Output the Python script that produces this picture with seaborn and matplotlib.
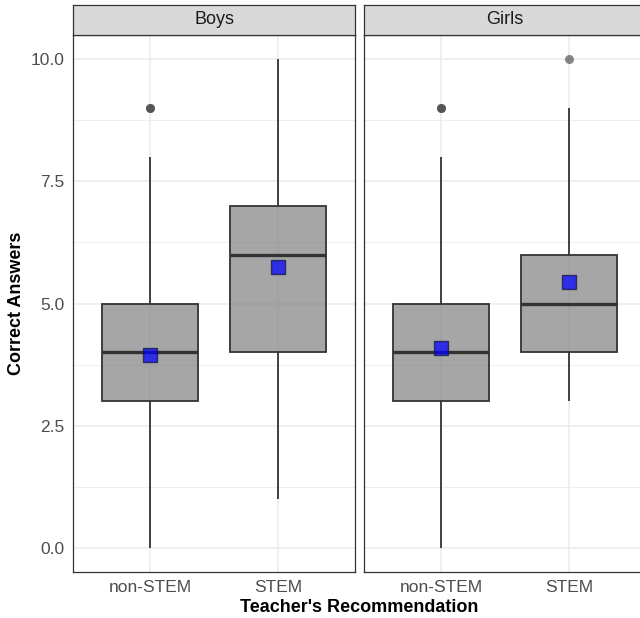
import numpy as np
import pandas as pd
import matplotlib
matplotlib.use('Agg')
import matplotlib.pyplot as plt
import seaborn as sns

sns.set_style('white')
plt.rcParams['font.family'] = ['Liberation Sans', 'DejaVu Sans']

# 数据
groups = ['Boys', 'Girls']
categories = ['non-STEM', 'STEM']
boys_non_stem = [0, 3, 3, 3, 4, 4, 4, 5, 5, 5, 8, 9, 9]
boys_stem = [1, 4, 4, 4, 6, 6, 6, 7, 7, 7, 10]
girls_non_stem = [0, 3, 3, 3, 4, 4, 4, 5, 5, 5, 8, 9, 9]
girls_stem = [3, 4, 4, 4, 5, 5, 5, 6, 6, 6, 9, 10]
boys_means = [3.95, 5.74]
girls_means = [4.08, 5.45]

scores = {'Boys': [boys_non_stem, boys_stem], 'Girls': [girls_non_stem, girls_stem]}
means = {'Boys': boys_means, 'Girls': girls_means}

W, H = 640, 618
fig = plt.figure(figsize=(W / 100, H / 100), dpi=100)

panel_left = [73, 364]
panel_w = 282
top, bottom, strip_top = 35, 572, 5

grey20 = '#333333'

for g, x0 in zip(groups, panel_left):
    ax = fig.add_axes([x0 / W, (H - bottom) / H, panel_w / W, (bottom - top) / H])
    rows = []
    for c, vals in zip(categories, scores[g]):
        rows += [(c, v) for v in vals]
    df = pd.DataFrame(rows, columns=['rec', 'score'])

    ax.set_axisbelow(True)
    sns.boxplot(data=df, x='rec', y='score', order=categories, ax=ax,
                width=0.75, color='#7f7f7f', linecolor=grey20, linewidth=1.3,
                saturation=1, showcaps=False, whis=1.5,
                medianprops=dict(color=grey20, linewidth=2.4),
                flierprops=dict(marker='o', markerfacecolor=grey20,
                                markeredgecolor='none', markersize=6.5, alpha=0.58))
    for p in ax.patches:
        p.set_facecolor((0.5, 0.5, 0.5, 0.7))
        p.set_edgecolor(grey20)

    # 均值（蓝色方块）
    sns.stripplot(x=categories, y=means[g], order=categories, ax=ax, jitter=False,
                  marker='s', size=10, color='blue', alpha=0.72,
                  edgecolor='#101040', linewidth=1)

    ax.set_xlim(-0.6, 1.6)
    ax.set_ylim(-0.5, 10.5)
    ax.set_yticks([0, 2.5, 5, 7.5, 10])
    ax.set_yticks([1.25, 3.75, 6.25, 8.75], minor=True)
    ax.set_yticklabels(['0.0', '2.5', '5.0', '7.5', '10.0'])
    ax.set_xticks([0, 1])
    ax.set_xticklabels(categories)
    ax.grid(True, which='major', color='#ebebeb', linewidth=1.1)
    ax.grid(True, which='minor', axis='y', color='#ebebeb', linewidth=0.6)
    ax.tick_params(axis='both', which='major', direction='out', length=4, width=0.8,
                   color=grey20, labelcolor='#4d4d4d', labelsize=12.5, pad=2)
    ax.tick_params(axis='y', which='minor', length=0)
    ax.set_xlabel('')
    ax.set_ylabel('')
    if g != 'Boys':
        ax.tick_params(axis='y', which='both', left=False, labelleft=False)
    for s in ax.spines.values():
        s.set_visible(True)
        s.set_color(grey20)
        s.set_linewidth(0.9)

    # 分面标题条
    sax = fig.add_axes([x0 / W, (H - top) / H, panel_w / W, (top - strip_top) / H])
    sax.set_facecolor('#d9d9d9')
    sax.set_xticks([])
    sax.set_yticks([])
    for s in sax.spines.values():
        s.set_color(grey20)
        s.set_linewidth(0.9)
    sax.text(0.5, 0.5, g, ha='center', va='center', fontsize=13, color='#1a1a1a',
             transform=sax.transAxes)

fig.text(359.5 / W, 1 - 608 / H, "Teacher's Recommendation", ha='center', va='center',
         fontsize=13, fontweight='bold', color='black')
fig.text(17 / W, 1 - 303 / H, 'Correct Answers', ha='center', va='center',
         rotation=90, fontsize=13, fontweight='bold', color='black')

fig.savefig('out.png', dpi=100)
